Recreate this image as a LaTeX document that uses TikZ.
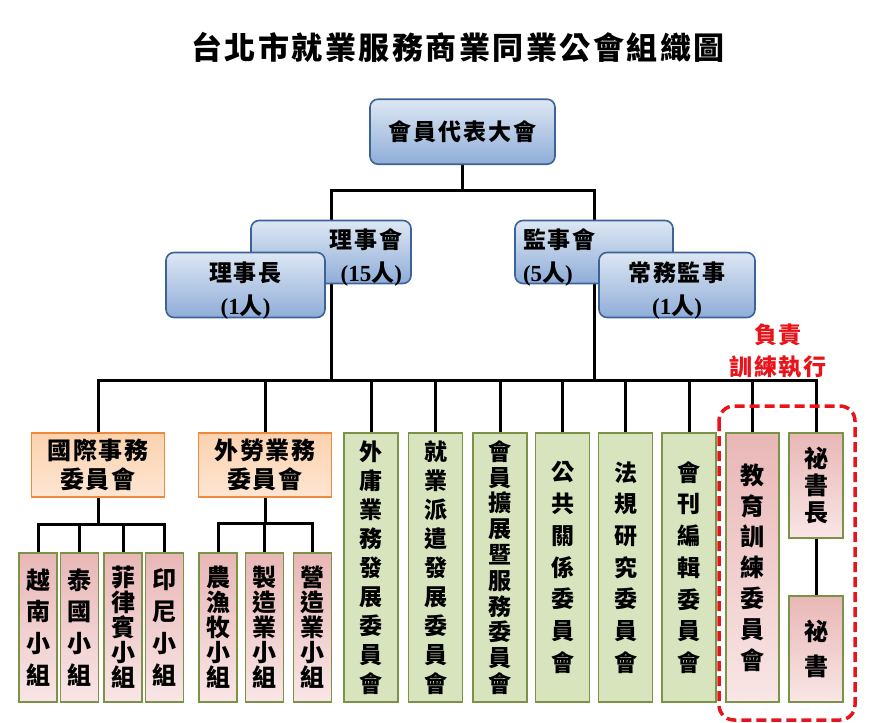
\documentclass[tikz,border=0pt]{standalone}
\usepackage{fontspec}
\setmainfont{Noto Sans CJK TC}[LetterSpace=8]
\newfontfamily\tnr{Liberation Serif}
\usetikzlibrary{backgrounds}
\definecolor{bluline}{HTML}{3C6297}
\definecolor{blutop}{HTML}{DDE7F3}
\definecolor{blubot}{HTML}{8FADD8}
\definecolor{oraline}{HTML}{EF8A3C}
\definecolor{oratop}{HTML}{FBD2AE}
\definecolor{orabot}{HTML}{FDE6D3}
\definecolor{grnline}{HTML}{7A9346}
\definecolor{grnfill}{HTML}{D8E4BE}
\definecolor{pnktop}{HTML}{E8B7B6}
\definecolor{pnkbot}{HTML}{F9E6E6}
\definecolor{tred}{HTML}{E8141B}

\begin{document}
\begin{tikzpicture}[x=1pt,y=-1pt,
  blu/.style={draw=bluline,line width=1.6pt,rounded corners=8pt,top color=blutop,bottom color=blubot,inner sep=0pt,font=\bfseries\fontsize{23}{33}\selectfont},
  ora/.style={draw=oraline,line width=1.8pt,top color=oratop,bottom color=orabot,minimum width=133,minimum height=64,inner sep=0pt,align=center,font=\bfseries\fontsize{24}{28.5}\selectfont},
  grn/.style={draw=grnline,line width=1.8pt,fill=grnfill,minimum width=54,minimum height=269,inner sep=0pt,align=center},
  pnk/.style={draw=grnline,line width=1.8pt,top color=pnktop,bottom color=pnkbot,inner sep=0pt,align=center},
  vt/.style={font=\bfseries\fontsize{23}{#1}\selectfont},
  vp/.style={font=\bfseries\fontsize{24}{#1}\selectfont},
  wire/.style={line width=3pt}]
\useasboundingbox (0,0) rectangle (881,723);

\node[font=\bfseries\fontsize{31}{31}\selectfont] (title) at (458,47) {台北市就業服務商業同業公會組織圖};

\node[blu,minimum width=185,minimum height=65] (mtg) at (462.5,131.7) {會員代表大會};
\node[blu,minimum width=160,minimum height=63,align=right,text width=142] (board) at (331,252) {\rule{0pt}{26pt}理事會\\\smash{{\tnr(15}人{\tnr)}}};
\node[blu,minimum width=159,minimum height=65,align=center] (chair) at (245.5,285) {\rule{0pt}{26pt}理事長\\\smash{{\tnr(1}人{\tnr)}}};
\node[blu,minimum width=158,minimum height=63,align=left,text width=142] (sup) at (594,252) {\rule{0pt}{26pt}監事會\\\smash{{\tnr(5}人{\tnr)}}};
\node[blu,minimum width=156,minimum height=65,align=center] (stand) at (677,285) {\rule{0pt}{26pt}常務監事\\\smash{{\tnr(1}人{\tnr)}}};

\node[ora] (intl) at (98,465) {國際事務\\委員會};
\node[ora] (fw) at (265,465) {外勞業務\\委員會};

\node[pnk,minimum width=38,minimum height=149,vp=31.7] (vn) at (38,627.5) {越\\南\\小\\組};
\node[pnk,minimum width=38,minimum height=149,vp=31.7] (th) at (79.5,627.5) {泰\\國\\小\\組};
\node[pnk,minimum width=38,minimum height=149,vp=25] (ph) at (123,627.5) {菲\\律\\賓\\小\\組};
\node[pnk,minimum width=38,minimum height=149,vp=31.7] (idn) at (164.5,627.5) {印\\尼\\小\\組};
\node[pnk,minimum width=38,minimum height=149,vp=25] (agr) at (218,627.5) {農\\漁\\牧\\小\\組};
\node[pnk,minimum width=38,minimum height=149,vp=25] (mfg) at (264.5,627.5) {製\\造\\業\\小\\組};
\node[pnk,minimum width=38,minimum height=149,vp=25] (cons) at (312.5,627.5) {營\\造\\業\\小\\組};

\node[grn,vt=29] (fe) at (371,567.5) {外\\庸\\業\\務\\發\\展\\委\\員\\會};
\node[grn,vt=29] (disp) at (435.5,567.5) {就\\業\\派\\遣\\發\\展\\委\\員\\會};
\node[grn,vt=25.8] (mem) at (500,567.5) {會\\員\\擴\\展\\暨\\服\\務\\委\\員\\會};
\node[grn,vt=31.7] (pr) at (562.5,567.5) {公\\共\\關\\係\\委\\員\\會};
\node[grn,vt=31.7] (law) at (625.5,567.5) {法\\規\\研\\究\\委\\員\\會};
\node[grn,vt=31.7] (pub) at (689,567.5) {會\\刊\\編\\輯\\委\\員\\會};

\node[pnk,minimum width=53,minimum height=269,vp=30.8] (edu) at (752.5,567.5) {教\\育\\訓\\練\\委\\員\\會};
\node[pnk,minimum width=54,minimum height=105,vp=27] (sg) at (816,485.5) {祕\\書\\長};
\node[pnk,minimum width=54,minimum height=106,vp=35] (sec) at (816,649) {祕\\書};

\node[tred,align=center,font=\bfseries\fontsize{23}{32}\selectfont] (note) at (778,351) {負責\\訓練執行};
\draw[tred,line width=3.5pt,dash pattern=on 10pt off 5pt,rounded corners=15pt] (719,406) rectangle (855,720);

\coordinate (tj) at (462.5,190);
\coordinate (bus) at (0,380);
\coordinate (ib) at (0,524);
\coordinate (fb) at (0,523);
\begin{scope}[on background layer]
\draw[wire] (mtg) -- (tj);
\draw[wire] (board.north) |- (tj) -| (sup.north);
\draw[wire] (board.south) -- (board.south |- bus);
\draw[wire] (sup.south) -- (sup.south |- bus);
\draw[wire] (intl.north) |- (sg.north |- bus) -- (sg.north);
\foreach \n in {fw,fe,disp,mem,pr,law,pub,edu}
  \draw[wire] (\n.north) -- (\n.north |- bus);
\draw[wire] (sg.south) -- (sec.north);
\draw[wire] (intl.south) -- (intl.south |- ib);
\draw[wire] (vn.north) |- (idn.north |- ib) -- (idn.north);
\foreach \n in {th,ph}
  \draw[wire] (\n.north) -- (\n.north |- ib);
\draw[wire] (fw.south) -- (fw.south |- fb);
\draw[wire] (agr.north) |- (cons.north |- fb) -- (cons.north);
\draw[wire] (mfg.north) -- (mfg.north |- fb);
\end{scope}
\end{tikzpicture}
\end{document}
